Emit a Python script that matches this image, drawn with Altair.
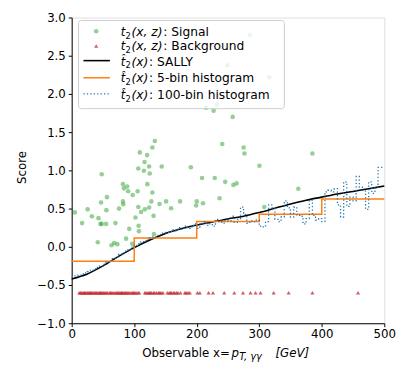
import altair as alt
import pandas as pd

# ---------------- data ----------------
sig_x = [5, 16.6, 25.5, 32.3, 42.8, 46, 48, 55, 41.7, 47, 48, 55.5, 56.4, 70, 63.7, 67.9, 73, 75.7,
         82, 83.5, 88.8, 90.3, 97.6, 105.5, 82, 82.5, 87, 92, 96.6, 102, 107, 107.5, 106.5, 111,
         117, 123.8, 127.4, 129, 131, 131.6, 140.5, 151, 159, 173.4, 121, 106.5, 115.4, 124.8,
         123.8, 116.5, 120.6, 109, 129, 133, 144, 190.6, 199, 200, 210, 208.5, 228.8, 236.5,
         240.8, 245.5, 257.5, 258.6, 263.8, 275, 276.3, 300.3, 362.5, 308, 285, 249, 316, 215,
         232.4, 227, 385]
sig_y = [0.45, 0.31, 0.49, 0.40, 0.375, 0.30, 0.30, 0.30, 0.06, 0.58, 0.95, 0.48, 0.65, 0.31,
         0.02, 0.05, 0.035, 0.50, 0.82, 0.765, 0.79, 0.727, 0.677, 0.727, 0.594, 0.556, 0.107,
         0.235, 0.04, 0.384, 0.275, 0.205, 0.52, 0.455, 0.49, 0.515, 0.594, 0.71, 0.405, 0.166,
         0.56, 0.594, 0.505, 0.594, 0.82, 1.025, 0.996, 0.96, 1.05, 1.11, 1.20, 1.235, 1.30,
         1.385, 1.05, 1.04, 0.54, 0.594, 0.57, 0.90, 0.90, 0.635, 1.345, 0.85, 1.70, 0.81, 0.83,
         1.30, 1.22, 1.06, 0.76, 0.52, 2.77, 2.375, 2.22, 1.82, 1.86, 1.78, 1.22]

bkg_x = [12, 14, 16, 18, 20, 21, 23, 25, 27, 29, 30, 32, 34, 36, 38, 40, 42, 44, 46, 47, 49, 51,
         53, 55, 57, 60, 62, 64, 66, 69, 71, 73, 75, 77, 79, 80, 82, 84, 86, 88, 90, 92, 95, 97,
         99, 101, 103, 106, 108, 117, 119, 122, 124, 126, 128, 131, 133, 136, 139, 141, 143, 146,
         153, 156, 158, 160, 163, 165, 168, 170, 174, 181, 183, 186, 189, 201, 205, 219, 226,
         244, 260, 274, 286, 294, 302, 323, 347, 385, 458]
bkg_level = -0.6

sally_x = [0, 25, 50, 75, 100, 125, 150, 175, 200, 225, 250, 275, 300, 325, 350, 375, 400, 425,
           450, 475, 500]
sally_y = [-0.42, -0.355, -0.25, -0.125, -0.01, 0.09, 0.175, 0.235, 0.285, 0.325, 0.365, 0.40,
           0.45, 0.505, 0.56, 0.61, 0.65, 0.69, 0.725, 0.76, 0.795]

hist5_edges = [0, 100, 200, 300, 400, 500]
hist5_vals = [-0.19, 0.115, 0.33, 0.425, 0.625]

hist100_vals = [-0.39, -0.38, -0.37, -0.355, -0.34, -0.325, -0.305, -0.29, -0.27, -0.25,
                -0.225, -0.20, -0.18, -0.155, -0.13, -0.10, -0.08, -0.055, -0.03, -0.005,
                0.02, 0.04, 0.06, 0.08, 0.10, 0.12, 0.13, 0.15, 0.16, 0.18,
                0.19, 0.20, 0.22, 0.21, 0.25, 0.23, 0.27, 0.24, 0.26, 0.30,
                0.24, 0.30, 0.33, 0.28, 0.30, 0.27, 0.36, 0.33, 0.31, 0.37,
                0.34, 0.40, 0.32, 0.36, 0.52, 0.42, 0.31, 0.34, 0.33, 0.35,
                0.27, 0.26, 0.33, 0.55, 0.51, 0.36, 0.33, 0.39, 0.60, 0.51,
                0.39, 0.52, 0.41, 0.40, 0.30, 0.37, 0.61, 0.41, 0.35, 0.37,
                0.33, 0.72, 0.74, 0.72, 0.76, 0.55, 0.39, 0.85, 0.53, 0.65,
                0.60, 0.92, 0.78, 0.74, 0.49, 0.85, 0.70, 0.78, 1.04, 1.04]
hist100_edges = [5 * i for i in range(101)]

# legend label parts: (italic hat?, argument, plain suffix)
legend_args = ["(x, z)", "(x, z)", "(x)", "(x)", "(x)"]
legend_hat = [False, False, True, True, True]
legend_suffix = [": Signal", ": Background", ": SALLY", ": 5-bin histogram", ": 100-bin histogram"]

# ---------------- tables ----------------
df_sig = pd.DataFrame({"x": sig_x, "y": sig_y})
df_bkg = pd.DataFrame({"x": bkg_x, "y": [bkg_level] * len(bkg_x)})
df_sally = pd.DataFrame({"x": sally_x, "y": sally_y})
df_h5 = pd.DataFrame({"x": hist5_edges, "y": hist5_vals + [hist5_vals[-1]]})
df_h100 = pd.DataFrame({"x": hist100_edges, "y": hist100_vals + [hist100_vals[-1]]})
one = pd.DataFrame({"a": [0]})

FONT = "DejaVu Sans"
xs = alt.Scale(domain=[0, 500], nice=False, zero=False)
ys = alt.Scale(domain=[-1, 3], nice=False, zero=False)
xaxis = alt.Axis(values=[0, 100, 200, 300, 400, 500], title=None, grid=False, tickSize=3.5,
                 labelFontSize=12, labelFont=FONT, labelColor="black", tickColor="black",
                 domainColor="black", labelPadding=2, labelFlush=False)
yaxis = alt.Axis(values=[-1, -0.5, 0, 0.5, 1, 1.5, 2, 2.5, 3], title=None, grid=False,
                 tickSize=3.5, labelFontSize=12, labelFont=FONT, labelColor="black",
                 tickColor="black", domainColor="black", labelPadding=3, format=".1f",
                 labelExpr="replace(datum.label, '-', '\u2212')")
X = alt.X("x:Q", scale=xs, axis=xaxis)
Y = alt.Y("y:Q", scale=ys, axis=yaxis)

GREEN = "#2ca02c"
RED = "#c0282f"

signal = alt.Chart(df_sig).mark_point(filled=True, shape="circle", size=22, color=GREEN,
                                      opacity=0.5, strokeWidth=0).encode(x=X, y=Y)
background = alt.Chart(df_bkg).mark_point(filled=True, shape="triangle-up", size=18,
                                          color=RED, opacity=0.75,
                                          strokeWidth=0).encode(x=X, y=Y)
sally = alt.Chart(df_sally).mark_line(color="black", strokeWidth=1.6,
                                      interpolate="monotone").encode(x=X, y=Y)
h5 = alt.Chart(df_h5).mark_line(color="#ff7f0e", strokeWidth=1.5,
                                interpolate="step-after").encode(x=X, y=Y)
h100 = alt.Chart(df_h100).mark_line(color="#1f77b4", strokeWidth=1.3, strokeDash=[1.3, 2.2],
                                    interpolate="step-after").encode(x=X, y=Y)


def txt(t, x, y, size=12, style="normal", angle=0, align="left", baseline="alphabetic"):
    kw = dict(text=t, font=FONT, fontSize=size, fontStyle=style, align=align,
              baseline=baseline, color="black")
    if angle:
        kw["angle"] = angle
    return alt.Chart(one).mark_text(**kw).encode(x=alt.value(x), y=alt.value(y))


# ---------------- legend (drawn by hand) ----------------
box = alt.Chart(one).mark_rect(fill="white", fillOpacity=0.8, stroke="#cccccc", strokeWidth=1,
                               cornerRadius=3).encode(
    x=alt.value(7), x2=alt.value(217), y=alt.value(3), y2=alt.value(93))
sym_y = [14, 29, 44, 61.5, 78]
base_y = [18.5, 33, 49, 66, 83]
leg_sig = alt.Chart(one).mark_point(filled=True, shape="circle", size=22, color=GREEN,
                                    opacity=0.5, strokeWidth=0).encode(
    x=alt.value(25), y=alt.value(sym_y[0]))
leg_bkg = alt.Chart(one).mark_point(filled=True, shape="triangle-up", size=18, color=RED,
                                    opacity=0.75, strokeWidth=0).encode(
    x=alt.value(25), y=alt.value(sym_y[1]))
leg_sally = alt.Chart(one).mark_rule(color="black", strokeWidth=1.6).encode(
    x=alt.value(12), x2=alt.value(39), y=alt.value(sym_y[2]))
leg_h5 = alt.Chart(one).mark_rule(color="#ff7f0e", strokeWidth=1.5).encode(
    x=alt.value(12), x2=alt.value(39), y=alt.value(sym_y[3]))
leg_h100 = alt.Chart(one).mark_rule(color="#1f77b4", strokeWidth=1.3, strokeDash=[1.3, 2.2]).encode(
    x=alt.value(12), x2=alt.value(39), y=alt.value(sym_y[4]))

leg_texts = []
for arg, hat, suf, by in zip(legend_args, legend_hat, legend_suffix, base_y):
    leg_texts.append(txt("t\u0302" if hat else "t", 50, by, style="italic"))
    leg_texts.append(txt("2", 55, by + 3, size=8.5))
    leg_texts.append(txt(arg, 61, by, size=12.5, style="italic"))
    leg_texts.append(txt(suf, 93.5 if arg == "(x, z)" else 79, by, size=12.5))

# ---------------- axis titles (drawn by hand) ----------------
xt1 = txt("Observable x=", 72, 346.7)
xt2 = txt("p", 163, 346.7, style="italic")
xt3 = txt("T, \u03b3\u03b3", 171, 350, size=10, style="italic")
xt4 = txt("[GeV]", 208, 346.7, style="italic")
yt = txt("Score", -51, 153, angle=270, align="center", baseline="middle")

chart = alt.layer(
    signal, background, sally, h5, h100,
    box, leg_sig, leg_bkg, leg_sally, leg_h5, leg_h100, *leg_texts,
    xt1, xt2, xt3, xt4, yt,
).properties(
    width=319, height=312,
    autosize=alt.AutoSizeParams(type="none"),
    padding={"left": 65, "top": 6, "right": 15, "bottom": 44},
).configure_view(
    stroke="black", strokeWidth=1
).configure(background="white")

chart.save("out.html", embed_options={"renderer": "svg", "actions": False})
